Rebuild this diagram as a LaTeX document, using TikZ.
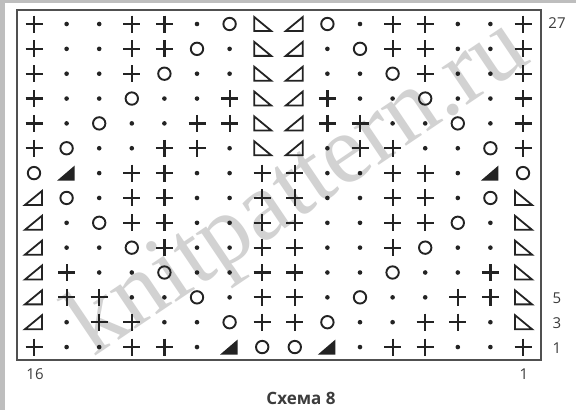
\documentclass[tikz,border=0pt]{standalone}
\usepackage{fontspec}
\setmainfont{Open Sans}
\newfontfamily\wmfont{Liberation Serif}
\definecolor{chartink}{RGB}{35, 35, 35}
\definecolor{framegray}{RGB}{80, 80, 80}
\definecolor{labelgray}{RGB}{60, 60, 60}
\definecolor{markgray}{RGB}{210, 210, 210}
\definecolor{edgegray}{RGB}{190, 190, 190}
\usetikzlibrary{positioning}

\tikzset{
    stitch/.style={draw=chartink, line width=2.2pt},
    thinstitch/.style={draw=chartink, line width=1.8pt, line join=miter},
    rowlabel/.style={text=labelgray, font=\fontsize{15}{18}\selectfont, inner sep=0pt},
    wmark/.style={text=markgray, font=\wmfont\fontsize{98}{100}\selectfont, inner sep=0pt}
}

% chart symbols, drawn round (0,0)
\newcommand{\stP}{\draw[stitch] (-8.5,0) -- (8.5,0) (0,-8.5) -- (0,8.5);}
\newcommand{\stD}{\fill[chartink] (0,0) circle (2.3);}
\newcommand{\stO}{\draw[stitch, line width=1.9pt] (0,0) circle (6.2);}
\newcommand{\stL}{\draw[thinstitch] (-8,-7) -- (-8,7) -- (9,7) -- cycle;}
\newcommand{\stR}{\draw[thinstitch] (8,-7) -- (8,7) -- (-9,7) -- cycle;}
\newcommand{\stF}{\fill[chartink] (8,-7.5) -- (8,7.5) -- (-9.5,7.5) -- cycle;}

\begin{document}
\begin{tikzpicture}[x=1pt, y=-1pt]
    \useasboundingbox (0,0) rectangle (576,410);
    % Paper
    \fill[edgegray] (0,0) rectangle (576,410);
    \fill[white] (5,3) rectangle (576,410);

    % Watermark
    \node[wmark, rotate=34] (wm) at (300,190) {knitpattern.ru};

    % Frame
    \draw[framegray, line width=2pt] (17,10) rectangle (541,359.5);

    % Stitches, row by row from the top
    \foreach \row [count=\r] in {
        {P,D,D,P,P,D,O,L,R,O,D,P,P,D,D,P},
        {P,D,D,P,P,O,D,L,R,D,O,P,P,D,D,P},
        {P,D,D,P,O,D,D,L,R,D,D,O,P,D,D,P},
        {P,D,D,O,D,D,P,L,R,P,D,D,O,D,D,P},
        {P,D,O,D,D,P,P,L,R,P,P,D,D,O,D,P},
        {P,O,D,D,P,P,D,L,R,D,P,P,D,D,O,P},
        {O,F,D,P,P,D,D,P,P,D,D,P,P,D,F,O},
        {R,O,D,P,P,D,D,P,P,D,D,P,P,D,O,L},
        {R,D,O,P,P,D,D,P,P,D,D,P,P,O,D,L},
        {R,D,D,O,P,D,D,P,P,D,D,P,O,D,D,L},
        {R,P,D,D,O,D,D,P,P,D,D,O,D,D,P,L},
        {R,P,P,D,D,O,D,P,P,D,O,D,D,P,P,L},
        {R,D,P,P,D,D,O,P,P,O,D,D,P,P,D,L},
        {P,D,D,P,P,D,F,O,O,F,D,P,P,D,D,P}}{
        \foreach \s [count=\c] in \row {
            \begin{scope}[shift={({34+32.6*(\c-1)},{24+24.85*(\r-1)})}]
                \csname st\s\endcsname
            \end{scope}
        }
    }

    % Row and stitch numbers
    \node[rowlabel] (r27) at (557,23) {27};
    \node[rowlabel] (r5) at (557,298) {5};
    \node[rowlabel] (r3) at (557,323) {3};
    \node[rowlabel] (r1) at (557,348) {1};
    \node[rowlabel] (c16) at (35,374) {16};
    \node[rowlabel] (c1) at (524,374) {1};

    % Title
    \node[text=labelgray, font=\bfseries\fontsize{17}{20}\selectfont] (title) at (301,398) {Схема 8};
\end{tikzpicture}
\end{document}
